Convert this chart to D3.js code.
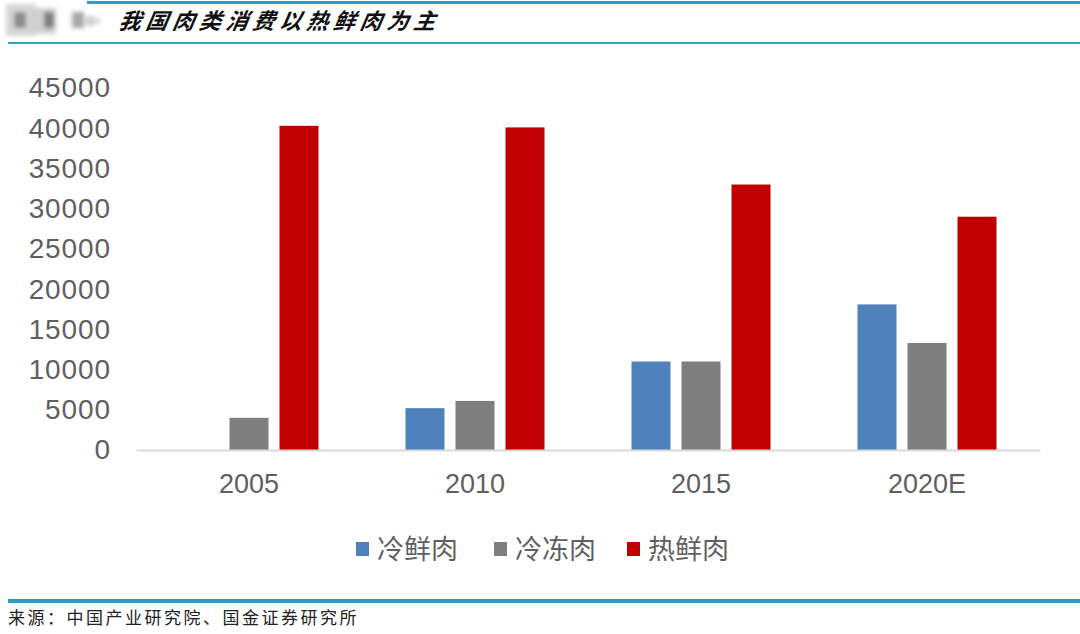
<!DOCTYPE html>
<html>
<head>
<meta charset="utf-8">
<script src="https://cdn.jsdelivr.net/npm/d3@7.9.0/dist/d3.min.js"></script>
<style>
  body { margin: 0; background: #fff; }
  svg { display: block; }
</style>
</head>
<body>
<svg id="chart" width="1080" height="634"></svg>
<script>
// data
const years = ['2005', '2010', '2015', '2020E'];
const seriesNames = ['冷鲜肉', '冷冻肉', '热鲜肉'];
const chilled = [0, 5200, 11000, 18100];
const frozen = [4000, 6100, 11000, 13300];
const hotFresh = [40300, 40100, 33000, 29000];
const yTicks = [0, 5000, 10000, 15000, 20000, 25000, 30000, 35000, 40000, 45000];
const colors = ['#4f81bd', '#7f7f7f', '#c00000'];

const svg = d3.select('#chart');

// header / footer rules
svg.append('rect').attr('x', 87).attr('y', 1).attr('width', 993).attr('height', 3).attr('fill', '#2b9cc8');
svg.append('rect').attr('x', 8).attr('y', 42).attr('width', 1072).attr('height', 2).attr('fill', '#3a9fc4');
svg.append('rect').attr('x', 8).attr('y', 599).attr('width', 1072).attr('height', 4).attr('fill', '#3199c6');

// blurred logo bits at top left
const defs = svg.append('defs');
defs.append('filter').attr('id', 'blur').append('feGaussianBlur').attr('stdDeviation', 2);
const logo = svg.append('g').attr('filter', 'url(#blur)');
[[6, 4, 30, 32, '#d6d6d6'], [14, 12, 12, 16, '#8c8c8c'], [30, 8, 26, 26, '#d0d0d0'], [44, 12, 10, 16, '#7e7e7e'],
 [72, 12, 12, 16, '#a8a8a8'], [86, 16, 8, 10, '#cfcfcf'], [94, 18, 6, 6, '#dcdcdc']].forEach(d => {
  logo.append('rect').attr('x', d[0]).attr('y', d[1]).attr('width', d[2]).attr('height', d[3]).attr('fill', d[4]);
});

svg.append('text')
  .attr('x', 118).attr('y', 29)
  .attr('font-family', '"Noto Sans CJK SC", sans-serif')
  .attr('font-size', 22).attr('font-weight', 'bold').attr('font-style', 'italic')
  .attr('letter-spacing', 4.8)
  .attr('transform', 'skewX(-10) translate(5,0)')
  .attr('fill', '#111')
  .text('我国肉类消费以热鲜肉为主');

svg.append('text')
  .attr('x', 8).attr('y', 624)
  .attr('font-family', '"Noto Sans CJK SC", sans-serif')
  .attr('font-size', 17).attr('letter-spacing', 2.5)
  .attr('fill', '#222')
  .text('来源：中国产业研究院、国金证券研究所');

// scales
const x = d3.scaleBand().domain(years).range([136, 1040]);
const xInner = d3.scaleBand().domain(seriesNames).range([43.5, 182.5]).paddingInner(0.22);
const y = d3.scaleLinear().domain([0, 45000]).range([450, 88]);

const table = years.map((yr, i) => ({
  year: yr,
  values: [chilled[i], frozen[i], hotFresh[i]]
}));

// y axis
const yAxis = svg.append('g')
  .attr('transform', 'translate(111,0)')
  .call(d3.axisLeft(y).tickValues(yTicks).tickSize(0).tickPadding(0).tickFormat(d3.format('d')));
yAxis.select('.domain').remove();
yAxis.selectAll('text')
  .attr('font-family', '"Liberation Sans", Arial, sans-serif')
  .attr('font-size', 28).attr('letter-spacing', 0.9).attr('fill', '#5f5f5f');

// bars
const groups = svg.append('g').selectAll('g').data(table).join('g')
  .attr('transform', d => `translate(${x(d.year)},0)`);
groups.selectAll('rect')
  .data(d => d.values.map((v, k) => ({ name: seriesNames[k], value: v, k })))
  .join('rect')
  .attr('x', d => xInner(d.name))
  .attr('width', xInner.bandwidth())
  .attr('y', d => y(d.value))
  .attr('height', d => y(0) - y(d.value))
  .attr('fill', d => colors[d.k]);

// x axis
const xAxis = svg.append('g')
  .attr('transform', `translate(0,${y(0)})`)
  .call(d3.axisBottom(x).tickSize(0).tickPadding(24));
xAxis.select('.domain').attr('stroke', '#d9d9d9').attr('stroke-width', 2);
xAxis.selectAll('text')
  .attr('font-family', '"Liberation Sans", Arial, sans-serif')
  .attr('font-size', 27).attr('fill', '#5f5f5f');

// legend
const legendX = [356, 494, 627];
const legend = svg.append('g').selectAll('g').data(seriesNames).join('g')
  .attr('transform', (d, i) => `translate(${legendX[i]},549)`);
legend.append('rect').attr('x', 0).attr('y', -7).attr('width', 13).attr('height', 14)
  .attr('fill', (d, i) => colors[i]);
legend.append('text').attr('x', 21).attr('y', 0).attr('dy', '0.36em')
  .attr('font-family', '"Noto Sans CJK SC", sans-serif')
  .attr('font-size', 27).attr('fill', '#5f5f5f')
  .text(d => d);
</script>
</body>
</html>
